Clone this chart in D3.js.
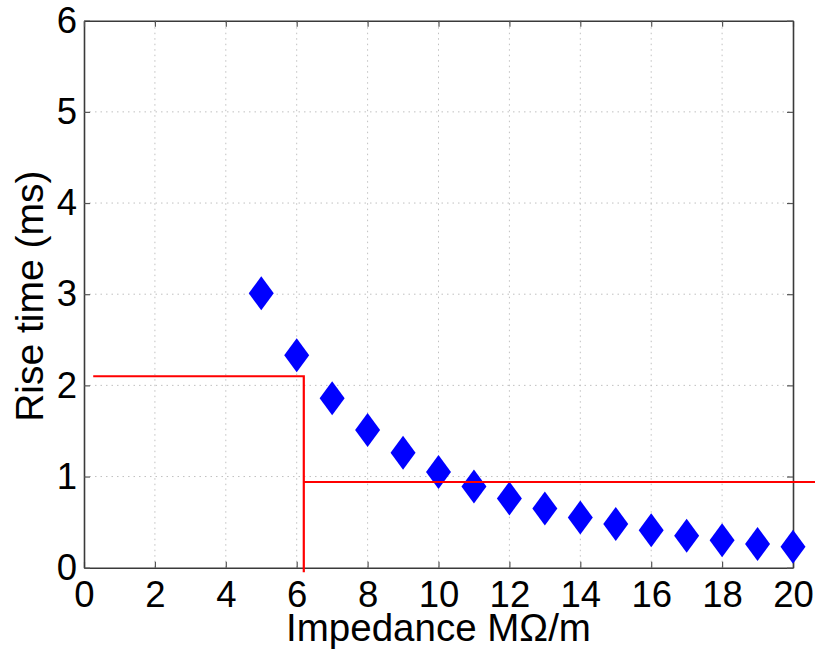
<!DOCTYPE html>
<html>
<head>
<meta charset="utf-8">
<script src="https://cdn.jsdelivr.net/npm/d3@7"></script>
<style>
  html, body { margin: 0; padding: 0; background: #fff; }
  svg { display: block; }
  text { font-family: "Liberation Sans", Arial, Helvetica, sans-serif; fill: #000; }
</style>
</head>
<body>
<svg id="chart" width="815" height="649"></svg>
<script>
// Rise time versus line impedance
const impedance = [5, 6, 7, 8, 9, 10, 11, 12, 13, 14, 15, 16, 17, 18, 19, 20];
const riseTime  = [3.01, 2.33, 1.86, 1.51, 1.26, 1.05, 0.89, 0.76, 0.65, 0.55, 0.48, 0.41, 0.35, 0.30, 0.26, 0.23];

const xTicks = [0, 2, 4, 6, 8, 10, 12, 14, 16, 18, 20];
const yTicks = [0, 1, 2, 3, 4, 5, 6];

// Reference lines: threshold rise time / impedance
const refImpedance = 6.2;
const refRiseLow = 2.1;
const refRiseHigh = 0.94;
const refStartX = 0.26;
const refEndX = 21;
const refBottomY = -0.05;

const W = 815, H = 649;
const margin = { left: 84, right: 22, top: 20.7, bottom: 81.3 };
const svg = d3.select("#chart");

const x = d3.scaleLinear().domain([0, 20]).range([margin.left, W - margin.right]);
const y = d3.scaleLinear().domain([0, 6]).range([H - margin.bottom, margin.top]);

const x0 = x(0), x1 = x(20), y0 = y(0), y1 = y(6);

// dotted grid
const grid = svg.append("g").attr("stroke", "#c0c0c0").attr("stroke-width", 1)
  .attr("stroke-dasharray", "1.5,4");
grid.selectAll("line.vx").data(xTicks.slice(1, -1)).join("line")
  .attr("x1", d => x(d)).attr("x2", d => x(d)).attr("y1", y0).attr("y2", y1);
grid.selectAll("line.hy").data(yTicks.slice(1, -1)).join("line")
  .attr("x1", x0).attr("x2", x1).attr("y1", d => y(d)).attr("y2", d => y(d));

// axes with inward ticks
const tickLen = 6;
const fmt = d3.format("d");
const bottomAxis = d3.axisBottom(x).tickValues(xTicks).tickFormat(fmt).tickSize(-tickLen).tickPadding(13).tickSizeOuter(0);
const leftAxis = d3.axisLeft(y).tickValues(yTicks).tickFormat(fmt).tickSize(-tickLen).tickPadding(7).tickSizeOuter(0);
const topAxis = d3.axisTop(x).tickValues(xTicks).tickSize(-tickLen).tickFormat("").tickSizeOuter(0);
const rightAxis = d3.axisRight(y).tickValues(yTicks).tickSize(-tickLen).tickFormat("").tickSizeOuter(0);

function styleAxis(g) {
  g.select(".domain").attr("stroke", "#3a3a3a").attr("stroke-width", 1.6);
  g.selectAll(".tick line").attr("stroke", "#555").attr("stroke-width", 1.2);
  g.selectAll(".tick text").attr("font-size", 36.5)
    .attr("font-family", "'Liberation Sans', Arial, sans-serif").attr("fill", "#000");
}

svg.append("g").attr("transform", `translate(0,${y0})`).call(bottomAxis).call(styleAxis);
svg.append("g").attr("transform", `translate(${x0},0)`).call(leftAxis).call(styleAxis);
svg.append("g").attr("transform", `translate(0,${y1})`).call(topAxis).call(styleAxis);
svg.append("g").attr("transform", `translate(${x1},0)`).call(rightAxis).call(styleAxis);

// axis labels
svg.append("text")
  .attr("x", (x0 + x1) / 2).attr("y", 641)
  .attr("text-anchor", "middle").attr("font-size", 38.5)
  .text("Impedance MΩ/m");

svg.append("text")
  .attr("transform", `translate(43,${(y0 + y1) / 2 + 2}) rotate(-90)`)
  .attr("text-anchor", "middle").attr("font-size", 39)
  .text("Rise time (ms)");

// diamond markers
const hw = 12.5, hh = 17;
const diamond = (cx, cy) => `M${cx},${cy - hh}L${cx + hw},${cy}L${cx},${cy + hh}L${cx - hw},${cy}Z`;
svg.append("g").selectAll("path").data(impedance.map((d, i) => [d, riseTime[i]])).join("path")
  .attr("d", d => diamond(x(d[0]), y(d[1])))
  .attr("fill", "#0000ff");

// red reference lines
const red = svg.append("g").attr("stroke", "#ff0000").attr("stroke-width", 2.2).attr("fill", "none");
red.append("path").attr("d", d3.line()([
  [x(refStartX), y(refRiseLow)],
  [x(refImpedance), y(refRiseLow)],
  [x(refImpedance), y(refBottomY)]
]));
red.append("line")
  .attr("x1", x(refImpedance)).attr("x2", x(refEndX))
  .attr("y1", y(refRiseHigh)).attr("y2", y(refRiseHigh));
</script>
</body>
</html>
